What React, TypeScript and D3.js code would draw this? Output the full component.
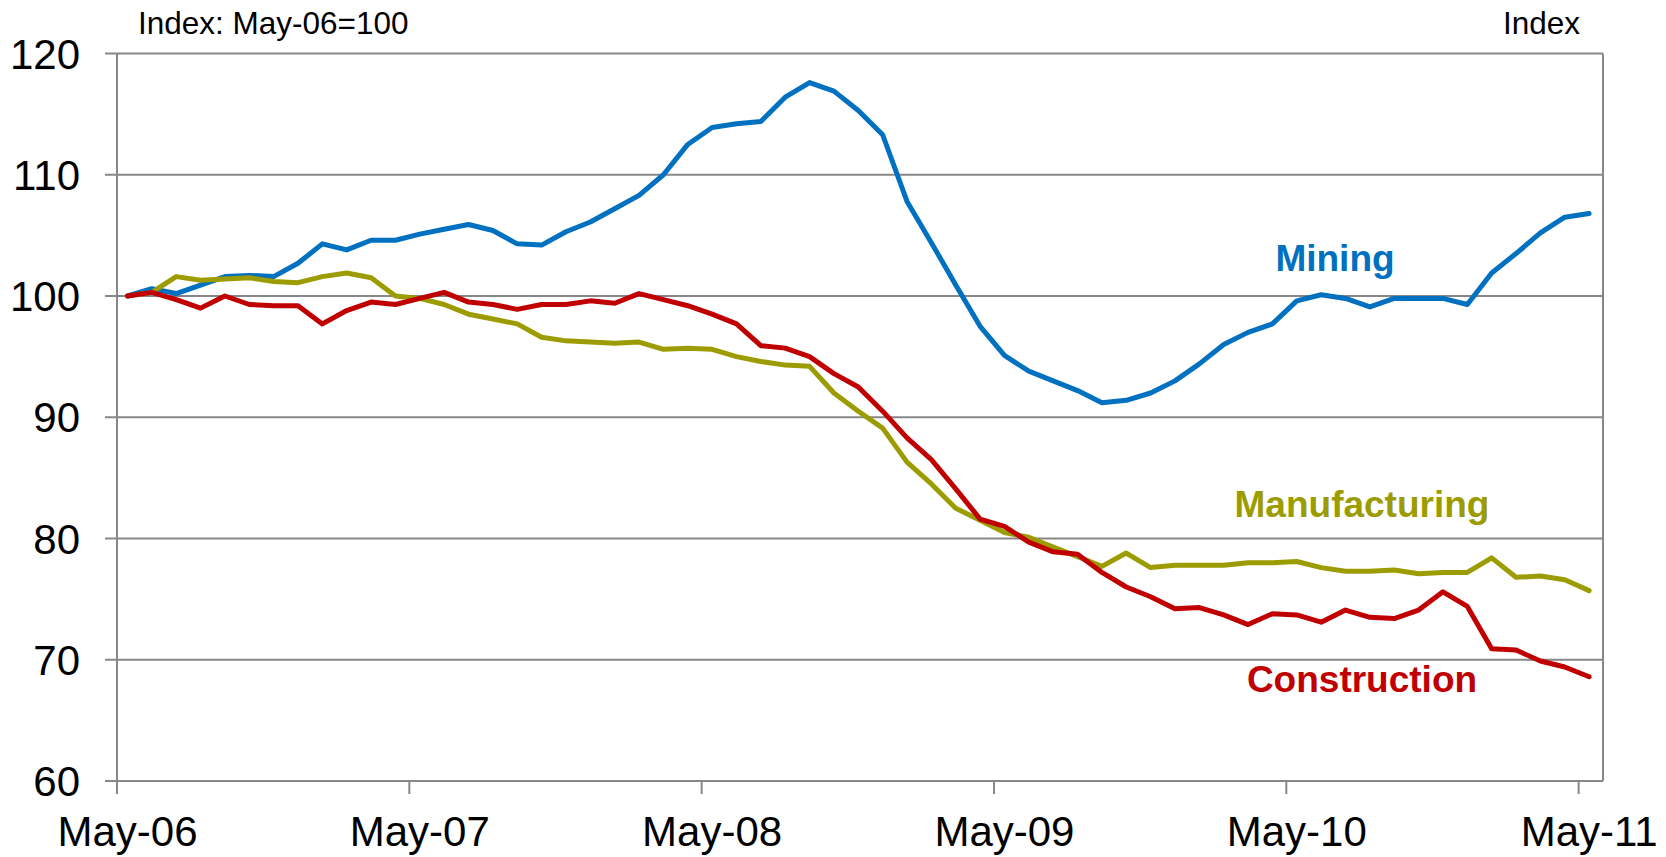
import React from "react";
import * as d3 from "d3";

const months: string[] = [
  "May-06","Jun-06","Jul-06","Aug-06","Sep-06","Oct-06","Nov-06","Dec-06","Jan-07","Feb-07","Mar-07","Apr-07",
  "May-07","Jun-07","Jul-07","Aug-07","Sep-07","Oct-07","Nov-07","Dec-07","Jan-08","Feb-08","Mar-08","Apr-08",
  "May-08","Jun-08","Jul-08","Aug-08","Sep-08","Oct-08","Nov-08","Dec-08","Jan-09","Feb-09","Mar-09","Apr-09",
  "May-09","Jun-09","Jul-09","Aug-09","Sep-09","Oct-09","Nov-09","Dec-09","Jan-10","Feb-10","Mar-10","Apr-10",
  "May-10","Jun-10","Jul-10","Aug-10","Sep-10","Oct-10","Nov-10","Dec-10","Jan-11","Feb-11","Mar-11","Apr-11",
  "May-11",
];

const mining: number[] = [
  100.0, 100.6, 100.2, 100.9, 101.6, 101.7, 101.6, 102.7, 104.3, 103.8, 104.6, 104.6,
  105.1, 105.5, 105.9, 105.4, 104.3, 104.2, 105.3, 106.1, 107.2, 108.3, 110.0, 112.5,
  113.9, 114.2, 114.4, 116.4, 117.6, 116.9, 115.3, 113.3, 107.8, 104.4, 100.9, 97.5,
  95.1, 93.8, 93.0, 92.2, 91.2, 91.4, 92.0, 93.0, 94.4, 96.0, 97.0, 97.7,
  99.6, 100.1, 99.8, 99.1, 99.8, 99.8, 99.8, 99.3, 101.9, 103.5, 105.2, 106.5,
  106.8,
];

const manufacturing: number[] = [
  100.0, 100.3, 101.6, 101.3, 101.4, 101.5, 101.2, 101.1, 101.6, 101.9, 101.5, 100.0,
  99.8, 99.3, 98.5, 98.1, 97.7, 96.6, 96.3, 96.2, 96.1, 96.2, 95.6, 95.7,
  95.6, 95.0, 94.6, 94.3, 94.2, 92.0, 90.5, 89.1, 86.3, 84.5, 82.5, 81.5,
  80.5, 80.1, 79.3, 78.5, 77.7, 78.8, 77.6, 77.8, 77.8, 77.8, 78.0, 78.0,
  78.1, 77.6, 77.3, 77.3, 77.4, 77.1, 77.2, 77.2, 78.4, 76.8, 76.9, 76.6,
  75.7,
];

const construction: number[] = [
  100.0, 100.3, 99.7, 99.0, 100.0, 99.3, 99.2, 99.2, 97.7, 98.8, 99.5, 99.3,
  99.8, 100.3, 99.5, 99.3, 98.9, 99.3, 99.3, 99.6, 99.4, 100.2, 99.7, 99.2,
  98.5, 97.7, 95.9, 95.7, 95.0, 93.6, 92.5, 90.5, 88.3, 86.5, 84.1, 81.6,
  81.0, 79.7, 78.9, 78.7, 77.2, 76.0, 75.2, 74.2, 74.3, 73.7, 72.9, 73.8,
  73.7, 73.1, 74.1, 73.5, 73.4, 74.1, 75.6, 74.4, 70.9, 70.8, 69.9, 69.4,
  68.6,
];

const yTicks: number[] = [60, 70, 80, 90, 100, 110, 120];
const xTickLabels: string[] = ["May-06", "May-07", "May-08", "May-09", "May-10", "May-11"];

const W = 1666;
const H = 857;
const left = 117;
const right = 1603;
const top = 53.5;
const bottom = 781;
const pointOffset = 0.43;

const FONT = "'Liberation Sans', Arial, Helvetica, sans-serif";
const GRID = "#878787";

export default function App() {
  const x = d3.scaleLinear().domain([0, months.length]).range([left, right]);
  const y = d3.scaleLinear().domain([60, 120]).range([bottom, top]);

  const line = d3
    .line<number>()
    .x((_, i) => x(i + pointOffset))
    .y((d) => y(d));

  const series = [
    { name: "Mining", values: mining, color: "#0070C0" },
    { name: "Manufacturing", values: manufacturing, color: "#9C9C00" },
    { name: "Construction", values: construction, color: "#C00000" },
  ];

  const tickIdx = xTickLabels.map((l) => months.indexOf(l));

  return (
    <svg
      width={W}
      height={H}
      style={{ position: "absolute", left: 0, top: 0, background: "#fff" }}
      fontFamily={FONT}
    >
      <rect x={0} y={0} width={W} height={H} fill="#fff" />
      {yTicks.map((t) => (
        <line key={t} x1={left} x2={right} y1={y(t)} y2={y(t)} stroke={GRID} strokeWidth={2} />
      ))}
      <line x1={right} x2={right} y1={y(120)} y2={y(60)} stroke={GRID} strokeWidth={2} />
      <line x1={left} x2={left} y1={y(120)} y2={y(60)} stroke={GRID} strokeWidth={2} />
      {yTicks.map((t) => (
        <line key={"yt" + t} x1={left - 12} x2={left} y1={y(t)} y2={y(t)} stroke={GRID} strokeWidth={2} />
      ))}
      {yTicks.map((t) => (
        <text key={"yl" + t} x={80} y={y(t) + 15} textAnchor="end" fontSize={42} fill="#000">
          {t}
        </text>
      ))}
      <line x1={left} x2={right} y1={y(60)} y2={y(60)} stroke={GRID} strokeWidth={2} />
      {tickIdx.map((i) => (
        <line key={"xt" + i} x1={x(i)} x2={x(i)} y1={bottom} y2={bottom + 13} stroke={GRID} strokeWidth={2} />
      ))}
      {tickIdx.map((i, k) => (
        <text key={"xl" + i} x={x(i + pointOffset)} y={846} textAnchor="middle" fontSize={42} fill="#000">
          {xTickLabels[k]}
        </text>
      ))}
      {series.map((s) => (
        <path
          key={s.name}
          d={line(s.values) || ""}
          fill="none"
          stroke={s.color}
          strokeWidth={5}
          strokeLinejoin="round"
          strokeLinecap="round"
        />
      ))}
      <text x={1335} y={271} textAnchor="middle" fontSize={37} fontWeight="bold" fill="#0070C0">
        Mining
      </text>
      <text x={1362} y={517} textAnchor="middle" fontSize={37} fontWeight="bold" fill="#9C9C00">
        Manufacturing
      </text>
      <text x={1362} y={692} textAnchor="middle" fontSize={37} fontWeight="bold" fill="#C00000">
        Construction
      </text>
      <text x={138} y={34} fontSize={31.5} fill="#000">
        Index: May-06=100
      </text>
      <text x={1580} y={34} textAnchor="end" fontSize={31.5} fill="#000">
        Index
      </text>
    </svg>
  );
}
